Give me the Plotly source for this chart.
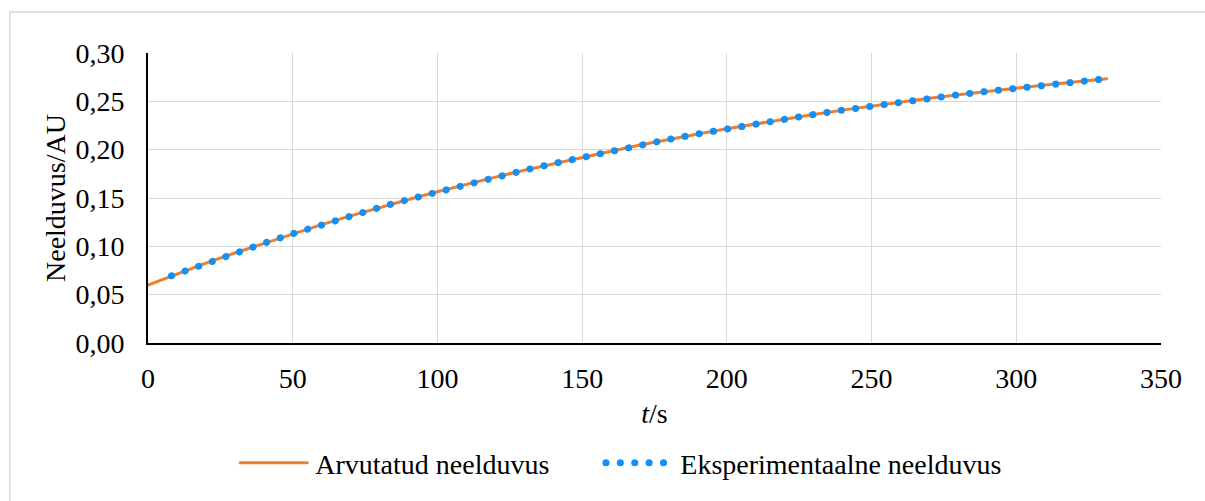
import plotly.graph_objects as go

# Calculated absorbance (orange line)
calc_t = [0, 10, 20, 30, 40, 50, 60, 70, 80, 90, 100, 110, 120, 130, 140, 150, 160,
          170, 180, 190, 200, 210, 220, 230, 240, 250, 260, 270, 280, 290, 300, 310,
          320, 330, 331.2]
calc_a = [0.0600, 0.0716, 0.0826, 0.0931, 0.1031, 0.1130, 0.1225, 0.1315, 0.1402,
          0.1485, 0.1564, 0.1642, 0.1716, 0.1787, 0.1855, 0.1921, 0.1984, 0.2048,
          0.2107, 0.2163, 0.2217, 0.2268, 0.2317, 0.2364, 0.2409, 0.2452, 0.2492,
          0.2531, 0.2568, 0.2603, 0.2637, 0.2669, 0.2700, 0.2730, 0.2733]

# Experimental absorbance (blue round-dot line)
exp_t = [8.1, 10, 20, 30, 40, 50, 60, 70, 80, 90, 100, 110, 120, 130, 140, 150, 160,
         170, 180, 190, 200, 210, 220, 230, 240, 250, 260, 270, 280, 290, 300, 310,
         320, 328.5]
exp_a = [0.0695, 0.0716, 0.0826, 0.0931, 0.1031, 0.1130, 0.1225, 0.1315, 0.1402,
         0.1485, 0.1564, 0.1642, 0.1716, 0.1787, 0.1855, 0.1921, 0.1984, 0.2048,
         0.2107, 0.2163, 0.2217, 0.2268, 0.2317, 0.2364, 0.2409, 0.2452, 0.2492,
         0.2531, 0.2568, 0.2603, 0.2637, 0.2669, 0.2700, 0.2725]

x_ticks = [0, 50, 100, 150, 200, 250, 300, 350]
y_ticks = [0.00, 0.05, 0.10, 0.15, 0.20, 0.25, 0.30]

FONT = "Liberation Serif"
FS = 28

fig = go.Figure()
fig.add_trace(go.Scatter(
    x=calc_t, y=calc_a, mode="lines", name="Arvutatud neelduvus",
    line=dict(color="#ED7D31", width=3),
))
fig.add_trace(go.Scatter(
    x=exp_t, y=exp_a, mode="lines", name="Eksperimentaalne neelduvus",
    line=dict(color="#1290F5", width=7, dash="0.1px,14.3px"),
))

fig.update_layout(
    width=1205, height=501,
    margin=dict(l=148, r=44, t=53, b=158),
    paper_bgcolor="white", plot_bgcolor="white",
    separators=", ",
    font=dict(family=FONT, size=FS, color="black"),
    showlegend=True,
    legend=dict(orientation="h", x=0.4445, xanchor="center", y=-0.414, yanchor="middle",
                font=dict(family=FONT, size=FS), itemwidth=72, entrywidth=278,
                bgcolor="rgba(0,0,0,0)"),
    xaxis=dict(range=[0, 350], tickvals=x_ticks, showgrid=True, gridcolor="#D9D9D9",
               gridwidth=1, showline=True, linecolor="black", linewidth=2,
               ticks="", ticklabelstandoff=9, zeroline=False,
               tickfont=dict(family=FONT, size=FS),
               title=dict(text="<i>t</i>/s", standoff=11, font=dict(family=FONT, size=FS))),
    yaxis=dict(range=[0, 0.30], tickvals=y_ticks, tickformat=".2f", showgrid=True,
               gridcolor="#D9D9D9", gridwidth=1, showline=True, linecolor="black",
               linewidth=2, ticks="", ticklabelstandoff=16, zeroline=False,
               tickfont=dict(family=FONT, size=FS),
               title=dict(text="Neelduvus/AU", standoff=2, font=dict(family=FONT, size=FS))),
    shapes=[dict(type="rect", xref="paper", yref="paper",
                 x0=-0.1364, x1=1.3, y0=-0.9, y1=1.1414,
                 line=dict(color="#D9D9D9", width=1.5), fillcolor="rgba(0,0,0,0)",
                 layer="below")],
)

post = (
    "var s=document.createElement('style');"
    "s.innerHTML='.scatterlayer path.js-line, .legend path.js-line{stroke-linecap:round;}"
    " .legend .scrollbox{clip-path:none !important;}';"
    "document.head.appendChild(s);"
    "var samples=['M7,0h67','M7.6,0h61'];"
    "document.querySelectorAll('.legend .traces').forEach(function(g,i){"
    "  g.querySelectorAll('path.js-line').forEach(function(p){ if(samples[i]) p.setAttribute('d', samples[i]); });"
    "});"
)
fig.write_html("out.html", post_script=post)
